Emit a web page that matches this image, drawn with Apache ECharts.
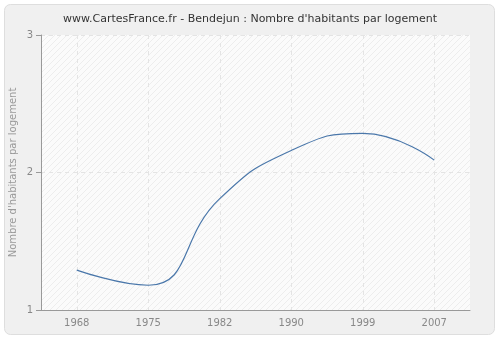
<!DOCTYPE html>
<html><head><meta charset="utf-8">
<script src="https://cdn.jsdelivr.net/npm/echarts@6/dist/echarts.min.js"></script>
<style>html,body{margin:0;padding:0;background:#fff}#c{width:500px;height:340px}</style>
</head><body><div id="c"></div>
<script>
const years = ['1968','1975','1982','1990','1999','2007'];
const values = [1.29, 1.18, 1.81, 2.16, 2.285, 2.09];
const yTicks = [1, 2, 3];

const pc = document.createElement('canvas');
pc.width = 6; pc.height = 6;
const g = pc.getContext('2d');
g.fillStyle = '#fbfbfb'; g.fillRect(0,0,6,6);
g.strokeStyle = '#ededed'; g.lineWidth = 1;
g.beginPath(); g.moveTo(0,6); g.lineTo(6,0); g.stroke();
g.beginPath(); g.moveTo(-1,1); g.lineTo(1,-1); g.stroke();
g.beginPath(); g.moveTo(5,7); g.lineTo(7,5); g.stroke();

const chart = echarts.init(document.getElementById('c'), null, {renderer:'canvas'});
chart.setOption({
  animation: false,
  backgroundColor: '#ffffff',
  graphic: [{
    type: 'rect', z: -10, silent: true,
    shape: {x: 4.5, y: 4.5, width: 490, height: 330, r: 6},
    style: {fill: '#f0f0f0', stroke: '#dedede', lineWidth: 1}
  }],
  title: {
    text: "www.CartesFrance.fr - Bendejun : Nombre d'habitants par logement",
    left: 'center', top: 9,
    textStyle: {fontFamily: 'DejaVu Sans', fontSize: 11, fontWeight: 'normal', color: '#333'}
  },
  grid: {left: 41, right: 30, top: 35, bottom: 30, show: true, containLabel: false,
    outerBoundsMode: 'none',
    backgroundColor: {image: pc, repeat: 'repeat'}, borderWidth: 0},
  xAxis: {
    type: 'category', data: years, boundaryGap: true,
    axisLine: {lineStyle: {color: '#999', width: 1}},
    axisTick: {alignWithLabel: true, length: 5, lineStyle: {color: '#999'}},
    axisLabel: {color: '#888', fontFamily: 'DejaVu Sans', fontSize: 10, margin: 8},
    splitLine: {show: true, alignWithLabel: true, lineStyle: {color: '#e4e4e4', type: [4,4]}}
  },
  yAxis: {
    type: 'value', min: yTicks[0], max: yTicks[yTicks.length-1], interval: 1,
    name: "Nombre d'habitants par logement", nameLocation: 'middle', nameGap: 23,
    nameMoveOverlap: false,
    nameTextStyle: {color: '#999', fontFamily: 'DejaVu Sans', fontSize: 10},
    axisLine: {show: true, lineStyle: {color: '#999', width: 1}},
    axisTick: {show: true, length: 5, lineStyle: {color: '#999'}},
    axisLabel: {color: '#888', fontFamily: 'DejaVu Sans', fontSize: 10, margin: 8},
    splitLine: {show: true, lineStyle: {color: '#e4e4e4', type: [4,4]}}
  },
  series: [{
    type: 'line', data: values, smooth: 0.5, symbol: 'none',
    lineStyle: {color: '#4a77aa', width: 1.2}
  }]
});
</script></body></html>
